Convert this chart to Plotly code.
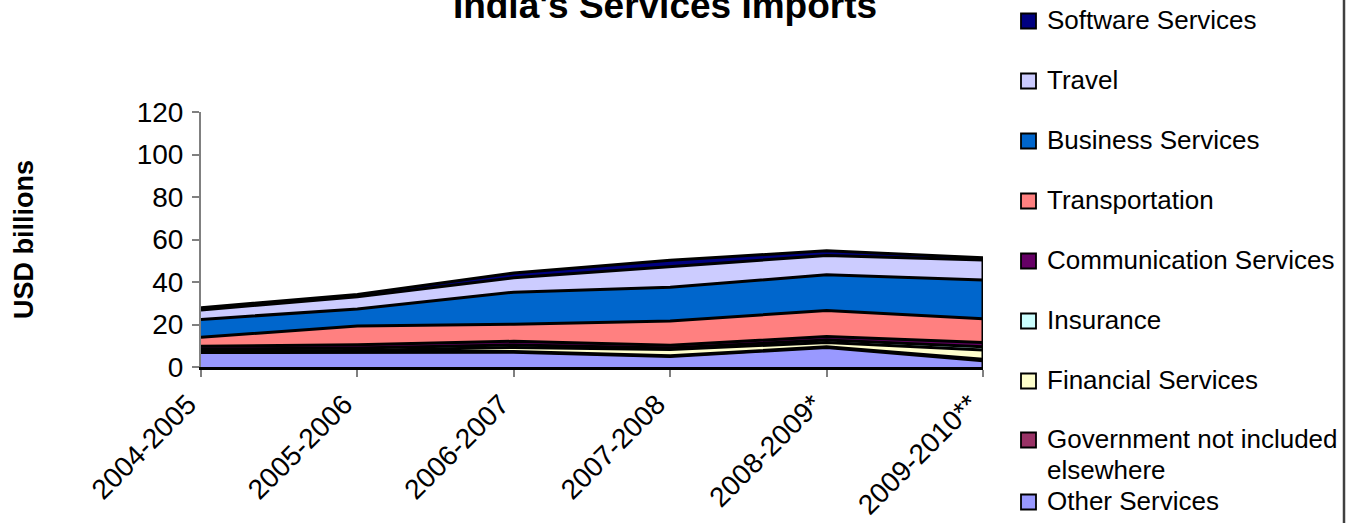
import plotly.graph_objects as go

years = ["2004-2005", "2005-2006", "2006-2007", "2007-2008", "2008-2009*", "2009-2010**"]

# stacked bottom -> top (USD billions)
other_services = [6.8, 6.9, 7.0, 5.0, 9.2, 2.9]
government = [0.5, 0.5, 0.3, 0.3, 0.3, 0.7]
financial = [0.2, 0.4, 1.9, 2.9, 2.0, 4.4]
insurance = [1.0, 1.1, 1.2, 0.8, 1.2, 1.5]
communication = [1.3, 1.6, 1.7, 1.2, 1.6, 2.0]
transportation = [4.2, 8.8, 8.0, 11.4, 12.3, 11.2]
business = [8.4, 8.0, 15.1, 15.9, 16.8, 18.3]
travel = [4.4, 5.8, 6.8, 9.7, 9.1, 9.4]
software = [1.1, 1.0, 2.2, 3.0, 2.2, 1.0]

series = [
    ("Other Services", other_services, "#9999FF"),
    ("Government not included<br>elsewhere", government, "#993366"),
    ("Financial Services", financial, "#FFFFCC"),
    ("Insurance", insurance, "#CCFFFF"),
    ("Communication Services", communication, "#660066"),
    ("Transportation", transportation, "#FF8080"),
    ("Business Services", business, "#0066CC"),
    ("Travel", travel, "#CCCCFF"),
    ("Software Services", software, "#000080"),
]

yticks = [0, 20, 40, 60, 80, 100, 120]

FONT = "Liberation Sans, Arial, sans-serif"
W, H = 1349, 523
L, R, T, B = 201, 366, 112, 156
PW, PH = W - L - R, H - T - B


def px_x(px):
    return (px - L) / PW


def px_y(py):
    return (H - B - py) / PH


fig = go.Figure()
for name, vals, color in series:
    fig.add_trace(go.Scatter(
        x=years, y=vals, name=name.replace("<br>", " "), stackgroup="one",
        mode="lines", line=dict(color="black", width=3),
        fillcolor=color, showlegend=False, hoverinfo="x+y+name",
    ))

# right-edge outline of the stacked polygon
totals = [sum(v) for v in zip(*[s[1] for s in series])]
fig.add_trace(go.Scatter(x=[years[-1], years[-1]], y=[0, totals[-1]], mode="lines",
                         line=dict(color="black", width=3), showlegend=False,
                         hoverinfo="skip"))

# manual legend (top series first, as in the original)
legend_y = [21, 81, 141, 201, 261, 321, 381, 440, 502]
legend_series = list(reversed(series))
for (name, vals, color), cy in zip(legend_series, legend_y):
    fig.add_shape(type="rect", xref="paper", yref="paper",
                  x0=px_x(1021), x1=px_x(1036), y0=px_y(cy + 7.5), y1=px_y(cy - 7.5),
                  fillcolor=color, line=dict(color="black", width=1.8))
    lines = name.split("<br>")
    for i, txt in enumerate(lines):
        fig.add_annotation(xref="paper", yref="paper", x=px_x(1045),
                           y=px_y(cy - 1 + 31 * i),
                           text=txt, showarrow=False, xanchor="left", yanchor="middle",
                           font=dict(family=FONT, size=26, color="black"))

# right border line
fig.add_shape(type="line", xref="paper", yref="paper",
              x0=px_x(1344), x1=px_x(1344), y0=px_y(0), y1=px_y(H),
              line=dict(color="#404040", width=2.5))

fig.update_layout(
    width=W, height=H,
    margin=dict(l=L, r=R, t=T, b=B, pad=0),
    paper_bgcolor="white", plot_bgcolor="white",
    font=dict(family=FONT, size=26, color="black"),
    title=dict(text="<b>India's Services Imports</b>", x=665 / W, xref="container",
               xanchor="center", y=1 - 5 / H, yanchor="middle", yref="container",
               font=dict(family=FONT, size=37, color="black")),
    xaxis=dict(type="category", range=[0, len(years) - 1], tickangle=-45,
               automargin=False, ticklabelshift=-13,
               showline=True, linecolor="black", linewidth=2.5,
               ticks="outside", ticklen=7, tickcolor="#808080", tickwidth=2,
               showgrid=False, zeroline=False,
               tickfont=dict(family=FONT, size=28, color="black")),
    yaxis=dict(range=[0, 120], tickvals=yticks, showline=True, linecolor="#808080",
               automargin=False, ticklabelstandoff=3,
               linewidth=2, ticks="outside", ticklen=7, tickcolor="#808080", tickwidth=2,
               showgrid=False, zeroline=False,
               tickfont=dict(family=FONT, size=28, color="black"),
               title=dict(text="<b>USD billions</b>", standoff=95,
                          font=dict(family=FONT, size=27, color="black"))),
    showlegend=False,
)

fig.write_html("out.html")
